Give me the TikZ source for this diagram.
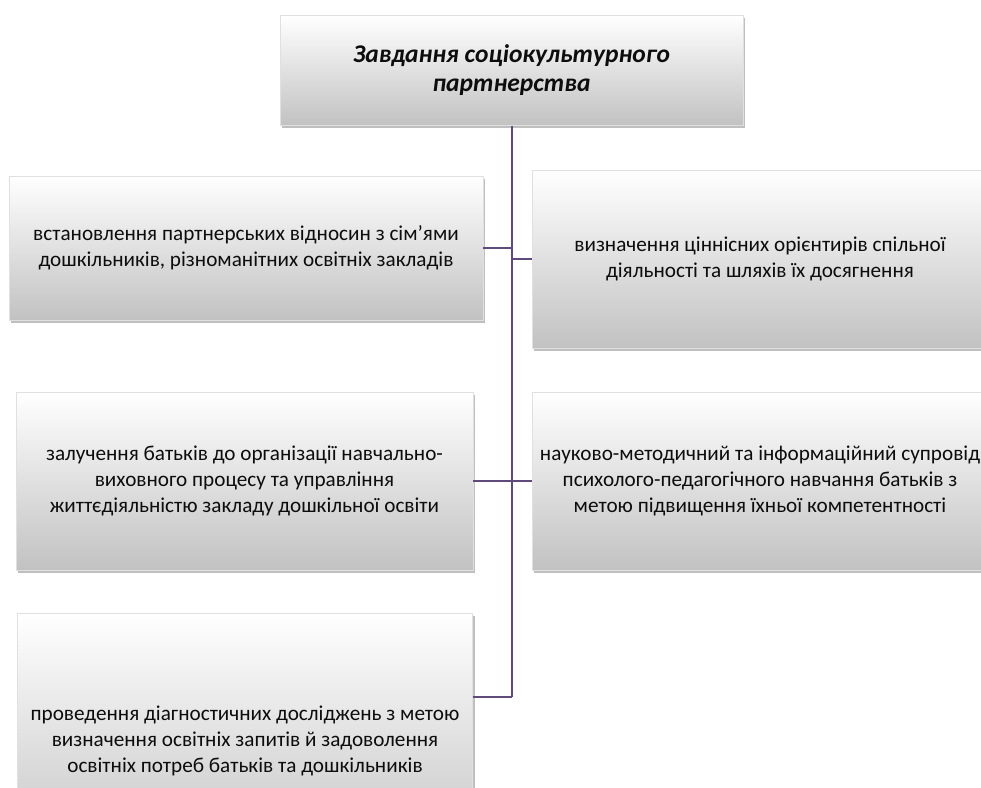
\documentclass[tikz,border=0pt]{standalone}
\usepackage{fontspec}
\setmainfont{Carlito}
\usepackage{xcolor}
\definecolor{linkviolet}{RGB}{96,74,123}
\usetikzlibrary{shadows}

\begin{document}
\begin{tikzpicture}[x=1pt,y=-1pt,
            task/.style = {rectangle,
            draw=black!12,
            top color=white,
            middle color=black!3,
            bottom color=black!24,
            drop shadow={shadow xshift=2pt,shadow yshift=-2.5pt,opacity=0.5},
            text=black!95,
            align=center,
            font=\fontsize{21.2}{26}\selectfont},
            link/.style = {draw=linkviolet, line width=2pt}]
        \useasboundingbox (0,0) rectangle (981,787);
        \clip (0,0) rectangle (981,787);

        % Title
        \node[task,minimum width=463pt,minimum height=110pt,
              font=\fontsize{25.5}{29}\selectfont\bfseries\itshape] (title) at (511.5,70.5)
              {Завдання соціокультурного\\партнерства};

        % Left column
        \node[task,minimum width=474pt,minimum height=144pt] (left1) at (246,248)
              {встановлення партнерських відносин з сім’ями\\дошкільників, різноманітних освітніх закладів};
        \node[task,minimum width=457pt,minimum height=178pt] (left2) at (244.5,481)
              {залучення батьків до організації навчально-\\виховного процесу та управління\\життєдіяльністю закладу дошкільної освіти};
        \node[task,minimum width=455pt,minimum height=256pt] (left3) at (245,741)
              {проведення діагностичних досліджень з метою\\визначення освітніх запитів й задоволення\\освітніх потреб батьків та дошкільників};

        % Right column
        \node[task,minimum width=456pt,minimum height=178pt] (right1) at (760,259)
              {визначення ціннісних орієнтирів спільної\\діяльності та шляхів їх досягнення};
        \node[task,minimum width=456pt,minimum height=178pt] (right2) at (760,481)
              {науково-методичний та інформаційний супровід\\психолого-педагогічного навчання батьків з\\метою підвищення їхньої компетентності};

        % Trunk
        \coordinate (end3) at ([yshift=-84pt]left3.north east);
        \draw[link] (title.south) -- (title.south |- end3);

        % Branches
        \draw[link] (left1.east) -- (left1.east -| title.south);
        \draw[link] (left2.east) -- (left2.east -| title.south);
        \draw[link] (end3) -- (end3 -| title.south);
        \draw[link] (right1.west) -- (right1.west -| title.south);
        \draw[link] (right2.west) -- (right2.west -| title.south);
    \end{tikzpicture}
\end{document}
